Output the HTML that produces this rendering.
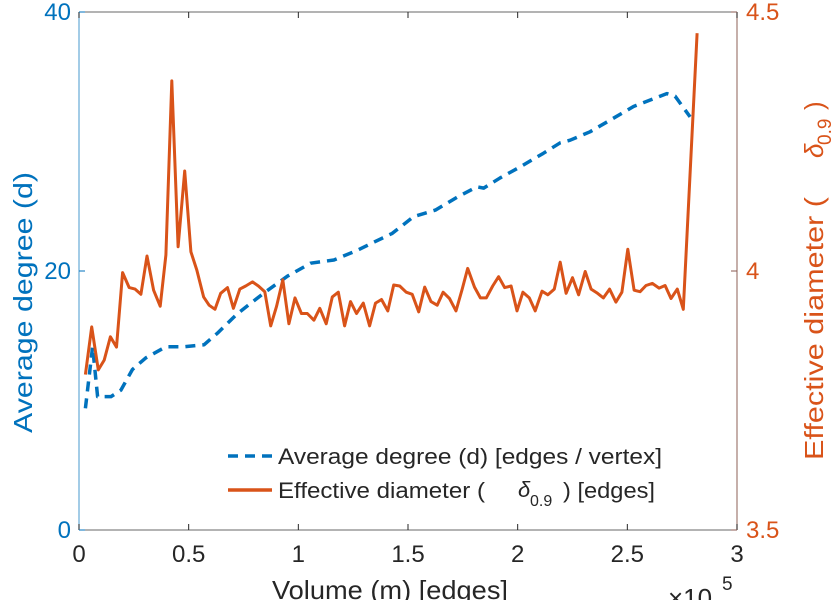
<!DOCTYPE html>
<html><head><meta charset="utf-8">
<style>
html,body{margin:0;padding:0;background:#fff;}
svg{display:block;font-family:"Liberation Sans",sans-serif;}
</style></head>
<body>
<svg id="chart" width="838" height="600" viewBox="0 0 838 600">
  <g id="axes"></g>
  <g id="series"></g>
  <g id="legend">
    <line x1="228" y1="456" x2="272" y2="456" stroke="#0072BD" stroke-width="3.5" stroke-dasharray="10,7"/>
    <text x="278" y="464" font-size="22" textLength="384" lengthAdjust="spacingAndGlyphs" fill="#262626">Average degree (d) [edges / vertex]</text>
    <line x1="228" y1="490" x2="272" y2="490" stroke="#D95319" stroke-width="3.5"/>
    <text x="278" y="498" font-size="22" textLength="207" lengthAdjust="spacingAndGlyphs" fill="#262626">Effective diameter (</text>
    <text x="518" y="497" font-size="22" font-style="italic" fill="#262626">δ</text>
    <text x="530" y="506" font-size="16" fill="#262626">0.9</text>
    <text x="563" y="498" font-size="22" textLength="92" lengthAdjust="spacingAndGlyphs" fill="#262626">) [edges]</text>
  </g>
</svg>
<script>
const xVals = [0.029,0.058,0.088,0.115,0.143,0.171,0.199,0.229,0.256,0.282,0.310,0.340,0.370,0.396,0.423,0.452,0.482,0.510,0.537,0.568,0.593,0.620,0.646,0.677,0.704,0.733,0.760,0.791,0.818,0.847,0.874,0.901,0.929,0.957,0.985,1.014,1.041,1.071,1.098,1.127,1.155,1.182,1.211,1.238,1.265,1.296,1.325,1.352,1.379,1.408,1.435,1.462,1.492,1.519,1.549,1.576,1.605,1.633,1.660,1.689,1.719,1.747,1.772,1.803,1.830,1.857,1.886,1.913,1.941,1.970,1.997,2.024,2.053,2.080,2.111,2.138,2.167,2.194,2.221,2.250,2.278,2.308,2.335,2.364,2.391,2.419,2.448,2.475,2.502,2.531,2.558,2.585,2.614,2.645,2.672,2.699,2.728,2.755,2.818];
const diameterVals = [3.80,3.892,3.809,3.828,3.873,3.853,3.997,3.968,3.965,3.955,4.029,3.963,3.932,4.031,4.367,4.047,4.193,4.037,4.002,3.950,3.934,3.926,3.957,3.968,3.928,3.965,3.971,3.979,3.971,3.960,3.894,3.932,3.983,3.898,3.948,3.918,3.918,3.905,3.928,3.898,3.950,3.959,3.894,3.941,3.918,3.938,3.894,3.938,3.945,3.923,3.973,3.971,3.959,3.955,3.921,3.969,3.941,3.934,3.959,3.947,3.923,3.965,4.005,3.969,3.948,3.948,3.971,3.989,3.968,3.971,3.923,3.959,3.948,3.923,3.961,3.954,3.965,4.017,3.957,3.987,3.954,3.999,3.965,3.957,3.948,3.965,3.940,3.959,4.042,3.963,3.960,3.972,3.976,3.967,3.972,3.947,3.965,3.926,4.459];
const degreeX = [0.029,0.062,0.085,0.146,0.191,0.244,0.305,0.396,0.479,0.570,0.631,0.722,0.843,0.950,1.056,1.162,1.269,1.329,1.428,1.526,1.625,1.724,1.815,1.845,1.921,2.012,2.118,2.194,2.239,2.330,2.437,2.528,2.619,2.680,2.718,2.786];
const degreeVals = [9.4,14.15,10.3,10.3,10.8,12.4,13.3,14.15,14.15,14.3,15.2,16.7,18.3,19.6,20.6,20.85,21.6,22.1,22.9,24.2,24.7,25.7,26.5,26.4,27.2,28.05,29.1,29.9,30.1,30.75,31.8,32.7,33.3,33.7,33.5,31.9];
const xTicks = [0,0.5,1,1.5,2,2.5,3];
const xTickLabels = ["0","0.5","1","1.5","2","2.5","3"];
const leftTicks = [0,20,40];
const rightTicks = [3.5,4,4.5];
const rightTickLabels = ["3.5","4","4.5"];

const L=79, R=737, T=12, B=530;
const sx = v => L + (v-0)/(3-0)*(R-L);
const syL = v => B - (v-0)/(40-0)*(B-T);
const syR = v => B - (v-3.5)/(4.5-3.5)*(B-T);
const NS="http://www.w3.org/2000/svg";
function mk(tag, attrs, parent){const e=document.createElementNS(NS,tag);for(const k in attrs)e.setAttribute(k,attrs[k]);parent.appendChild(e);return e;}
const axes=document.getElementById('axes'), series=document.getElementById('series');

let e;
e=mk('line',{x1:L,y1:T,x2:R,y2:T,stroke:'#262626','stroke-width':1,'stroke-opacity':0.7},axes);


e=mk('line',{x1:L,y1:B,x2:R,y2:B,stroke:'#262626','stroke-width':1,'stroke-opacity':0.7},axes);


e=mk('line',{x1:L,y1:T,x2:L,y2:B,stroke:'#0072BD','stroke-width':1.2,'stroke-opacity':0.6},axes);


e=mk('line',{x1:R,y1:T,x2:R,y2:B,stroke:'#8a5a50','stroke-width':1.2,'stroke-opacity':0.8},axes);



xTicks.forEach((t,i)=>{
  const x=sx(t);
  let a=mk('line',{x1:x,y1:B,x2:x,y2:B-6,stroke:'#262626','stroke-width':1},axes);
  
  
  a=mk('line',{x1:x,y1:T,x2:x,y2:T+6,stroke:'#262626','stroke-width':1},axes);
  
  
  const tx=mk('text',{x:x,y:B+32,'font-size':24,'text-anchor':'middle',fill:'#262626'},axes);
  tx.textContent=xTickLabels[i];
  
  
});
leftTicks.forEach(t=>{
  const y=syL(t);
  let a=mk('line',{x1:L,y1:y,x2:L+6,y2:y,stroke:'#0072BD','stroke-width':1},axes);
  
  
  const tx=mk('text',{x:L-8,y:y+8,'font-size':24,'text-anchor':'end',fill:'#0072BD'},axes);
  tx.textContent=String(t);
  
  
});
rightTicks.forEach((t,i)=>{
  const y=syR(t);
  let a=mk('line',{x1:R,y1:y,x2:R-6,y2:y,stroke:'#8a5a50','stroke-width':1},axes);
  
  
  const tx=mk('text',{x:R+9,y:y+8,'font-size':24,fill:'#D95319'},axes);
  tx.textContent=rightTickLabels[i];
  
  
});

let t=mk('text',{x:272,y:599,'font-size':26,textLength:236,lengthAdjust:'spacingAndGlyphs',fill:'#262626'},axes);
t.textContent='Volume (m) [edges]';


t=mk('text',{x:668,y:607,'font-size':26,fill:'#262626'},axes);
t.textContent='×10';


t=mk('text',{x:722,y:590,'font-size':19,fill:'#262626'},axes);
t.textContent='5';


t=mk('text',{x:0,y:0,'font-size':26,textLength:261,lengthAdjust:'spacingAndGlyphs',fill:'#0072BD',transform:'translate(32,433) rotate(-90)'},axes);
t.textContent='Average degree (d)';


const rg=mk('g',{transform:'translate(823,460) rotate(-90)',fill:'#D95319'},axes);


t=mk('text',{x:0,y:0,'font-size':26,textLength:263,lengthAdjust:'spacingAndGlyphs'},rg);
t.textContent='Effective diameter (';


t=mk('text',{x:302,y:0,'font-size':26,'font-style':'italic'},rg);
t.textContent='δ';


t=mk('text',{x:315,y:8,'font-size':19},rg);
t.textContent='0.9';


t=mk('text',{x:350,y:0,'font-size':26},rg);
t.textContent=')';



const degPts=degreeX.map((x,i)=>sx(x).toFixed(1)+','+syL(degreeVals[i]).toFixed(1)).join(' ');
let p=mk('polyline',{points:degPts,fill:'none',stroke:'#0072BD','stroke-width':3.5,'stroke-dasharray':'10,7','stroke-linejoin':'round'},series);


const diaPts=xVals.map((x,i)=>sx(x).toFixed(1)+','+syR(diameterVals[i]).toFixed(1)).join(' ');
p=mk('polyline',{points:diaPts,fill:'none',stroke:'#D95319','stroke-width':3,'stroke-linejoin':'round'},series);


</script>
</body></html>
